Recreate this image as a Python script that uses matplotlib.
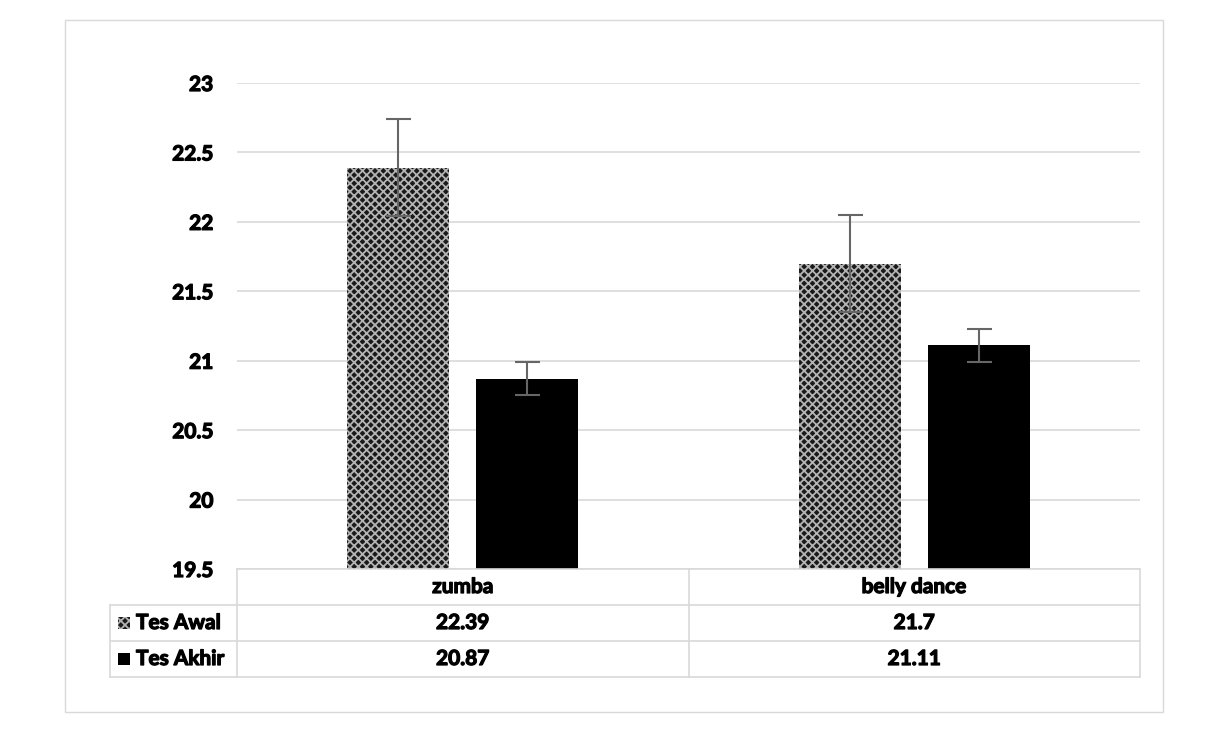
import matplotlib
matplotlib.use("Agg")
import matplotlib.pyplot as plt
from matplotlib.patches import Rectangle
from matplotlib.lines import Line2D
import matplotlib.patheffects as pe

categories = ["zumba", "belly dance"]
series_names = ["Tes Awal", "Tes Akhir"]
tes_awal = [22.39, 21.7]
tes_akhir = [20.87, 21.11]
err_awal = [0.35, 0.35]
err_akhir = [0.12, 0.12]
yticks = [19.5, 20, 20.5, 21, 21.5, 22, 22.5, 23]

plt.rcParams['font.family'] = ['Lato', 'DejaVu Sans']
plt.rcParams['hatch.linewidth'] = 1.3

W, H = 1228, 734
fig = plt.figure(figsize=(W/100, H/100), dpi=100)

def fx(px): return px / W
def fy(py): return 1 - py / H

FW = 'bold'
PE = [pe.withStroke(linewidth=0.9, foreground='black')]

# outer border
fig.patches.append(Rectangle((fx(65), fy(712)), fx(1163) - fx(65), fy(20) - fy(712),
                             transform=fig.transFigure, fill=False, edgecolor='#d9d9d9', lw=1))

L, R, T, B = 237, 1140, 83, 569
ax = fig.add_axes([fx(L), fy(B), fx(R) - fx(L), fy(T) - fy(B)])
ax.set_xlim(0, len(categories))
ax.set_ylim(19.5, 23)
ax.set_yticks(yticks)
ax.set_yticklabels([f"{t:g}" for t in yticks], fontsize=15, fontweight=FW)
for t in ax.get_yticklabels():
    t.set_path_effects(PE)
ax.tick_params(axis='y', length=0, pad=17)
ax.set_xticks([])
for s in ax.spines.values():
    s.set_visible(False)
ax.grid(axis='y', color='#d9d9d9', lw=1.2)
ax.set_axisbelow(True)

bw = 0.226
off = 0.143
xs = [i + 0.5 for i in range(len(categories))]
ax.bar([x - off for x in xs], [v - 19.5 for v in tes_awal], bottom=19.5, width=bw,
       facecolor='#1a1a1a', edgecolor='#b4b4b4', hatch='xxxx', lw=0, zorder=2)
ax.bar([x + off for x in xs], [v - 19.5 for v in tes_akhir], bottom=19.5, width=bw,
       color='black', zorder=2)
ax.errorbar([x - off for x in xs], tes_awal, yerr=err_awal, fmt='none', ecolor='#666666',
            elinewidth=1.5, capsize=9, capthick=1.5, zorder=3)
ax.errorbar([x + off for x in xs], tes_akhir, yerr=err_akhir, fmt='none', ecolor='#666666',
            elinewidth=1.5, capsize=9, capthick=1.5, zorder=3)

# data table
gc = '#d9d9d9'
rows_y = [569, 605, 641, 677]
tl = 110
colx = [L + (R - L) * i / len(categories) for i in range(len(categories) + 1)]
def hline(y, x0, x1):
    fig.lines.append(Line2D([fx(x0), fx(x1)], [fy(y), fy(y)], transform=fig.transFigure, color=gc, lw=1.2))
def vline(x, y0, y1):
    fig.lines.append(Line2D([fx(x), fx(x)], [fy(y0), fy(y1)], transform=fig.transFigure, color=gc, lw=1.2))
hline(rows_y[0], L, R)
for y in rows_y[1:]:
    hline(y, tl, R)
vline(tl, rows_y[1], rows_y[3])
for x in colx:
    vline(x, rows_y[0], rows_y[3])

tkw = dict(fontsize=15, fontweight=FW, ha='center', va='center', transform=fig.transFigure,
           path_effects=PE)
for i, c in enumerate(categories):
    cx = (colx[i] + colx[i + 1]) / 2
    fig.text(fx(cx), fy((rows_y[0] + rows_y[1]) / 2), c, **tkw)
    fig.text(fx(cx), fy((rows_y[1] + rows_y[2]) / 2), f"{tes_awal[i]:g}", **tkw)
    fig.text(fx(cx), fy((rows_y[2] + rows_y[3]) / 2), f"{tes_akhir[i]:g}", **tkw)

# legend keys in table
ks = 12
for r, (name, style) in enumerate(zip(series_names, ['hatch', 'solid'])):
    cy = (rows_y[r + 1] + rows_y[r + 2]) / 2
    if style == 'hatch':
        p = Rectangle((fx(118), fy(cy + ks / 2)), fx(ks), ks / H, transform=fig.transFigure,
                      facecolor='#1a1a1a', edgecolor='#b4b4b4', hatch='xxxx', lw=0)
    else:
        p = Rectangle((fx(118), fy(cy + ks / 2)), fx(ks), ks / H, transform=fig.transFigure,
                      facecolor='black', lw=0)
    fig.patches.append(p)
    fig.text(fx(136), fy(cy), name, fontsize=15, fontweight=FW, ha='left', va='center',
             transform=fig.transFigure, path_effects=PE)

fig.savefig("out.png", dpi=100)
